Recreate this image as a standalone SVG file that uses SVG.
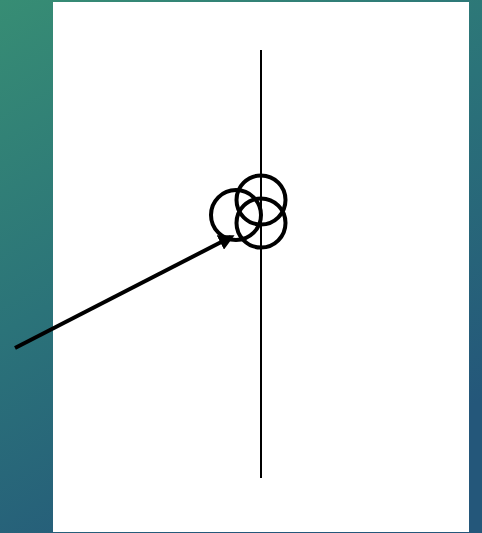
<svg xmlns="http://www.w3.org/2000/svg" width="482" height="533" viewBox="0 0 482 533">
<defs>
<linearGradient id="bg" x1="0" y1="0" x2="0.5" y2="1">
<stop offset="0" stop-color="#378d74"/>
<stop offset="0.5" stop-color="#2b7379"/>
<stop offset="1" stop-color="#24577a"/>
</linearGradient>
<marker id="ah" markerWidth="4" markerHeight="4" refX="3" refY="2" orient="auto" markerUnits="strokeWidth">
<path d="M0,0 L4,2 L0,4 z" fill="#000"/>
</marker>
<style>
.c{fill:none;stroke:#000;stroke-width:4}
</style>
</defs>
<rect width="482" height="533" fill="url(#bg)"/>
<rect x="53" y="2" width="416" height="530" fill="#fff"/>
<g id="axis"><line x1="261" y1="50" x2="261" y2="478" stroke="#000" stroke-width="2"/></g>
<g id="circle-top"><circle class="c" cx="261" cy="200" r="24.5"/></g>
<g id="circle-left"><circle class="c" cx="236" cy="215" r="25"/></g>
<g id="circle-bottom"><circle class="c" cx="261" cy="223" r="24.5"/></g>
<g id="connectors"><line x1="15" y1="348" x2="231" y2="237" stroke="#000" stroke-width="4" marker-end="url(#ah)"/></g>
</svg>
